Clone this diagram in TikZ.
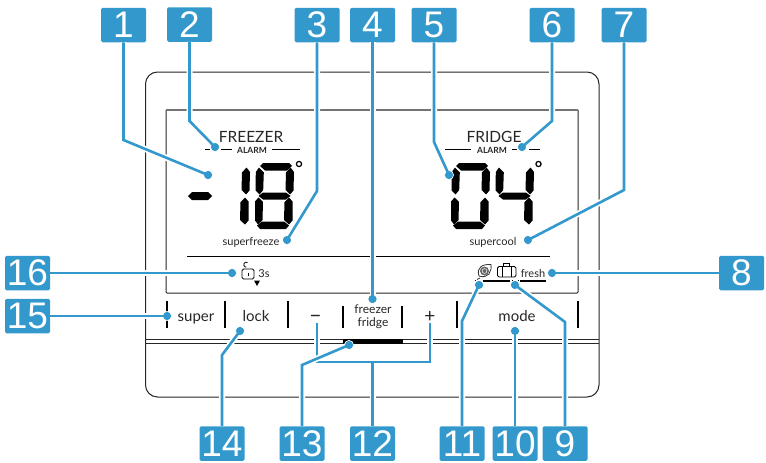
\documentclass[tikz,border=0pt]{standalone}
\usepackage{fontspec}
\setmainfont{Lato}
\newfontfamily\tagfont{Liberation Sans}
\usepackage{xcolor}
\usetikzlibrary{arrows.meta, positioning, calc}
\definecolor{tagblue}{HTML}{3399CC}
\tikzset{
  segA/.pic={\fill (5,3) -- (8,0) -- (34,0) -- (37,3) -- (32,7.5) -- (10,7.5) -- cycle;},
  segG/.pic={\fill (3.5,33) -- (8,29.5) -- (31,29.5) -- (35.5,33) -- (31,36.5) -- (8,36.5) -- cycle;},
  segD/.pic={\fill (2,62.5) -- (7,58.5) -- (29,58.5) -- (34,62.5) -- (31,66) -- (5,66) -- cycle;},
  segB/.pic={\fill (0.8,9) -- (4,4.5) -- (8.8,9.5) -- (8.2,27) -- (4.5,31.5) -- (0.5,27.5) -- cycle;},
  segF/.pic={\fill (31,9.5) -- (35.5,4.5) -- (39,9) -- (38.5,27.5) -- (35,31.5) -- (30.5,27) -- cycle;},
  segE/.pic={\fill (0,38.5) -- (3.5,34.5) -- (8,39) -- (7.5,57) -- (3,61.5) -- (0,57.5) -- cycle;},
  segC/.pic={\fill (29.5,39) -- (34,34.5) -- (37.5,38.5) -- (37.5,57.5) -- (34,61.5) -- (29,57) -- cycle;},
}
\newcommand{\lcddigit}[2]{\foreach \s in {#2} \pic at (#1,163) {seg\s};}

\begin{document}
\begin{tikzpicture}[
  x=1pt, y=-1pt,
  tagbox/.style={rectangle, rounded corners=1.5pt, fill=tagblue, text=white,
                 minimum width=45pt, minimum height=34.5pt, inner sep=0pt,
                 font=\tagfont\fontsize{37}{37}\selectfont},
  tagline/.style={draw=tagblue, line width=2.6pt, line join=miter,
                  preaction={draw=white, line width=6pt}},
  tagdot/.style={circle, fill=tagblue, draw=white, line width=0.8pt,
                 minimum size=9pt, inner sep=0pt},
  frame/.style={draw=black!85, line width=1pt},
  label/.style={inner sep=0pt, anchor=base, text=black!85},
  keytext/.style={label, font=\fontsize{15}{15}\selectfont},
  smalltext/.style={label, font=\fontsize{11}{11}\selectfont},
  headtext/.style={label, font=\fontsize{15.5}{15.5}\selectfont},
  alarmtext/.style={label, font=\bfseries\fontsize{8.5}{8.5}\selectfont},
  keysep/.style={draw=black, line width=1.5pt},
  thinrule/.style={draw=black, line width=1pt},
]
  \useasboundingbox (0,0) rectangle (766,463);

  % housing and display window
  \draw[frame, rounded corners=12pt] (145.5,72) rectangle (599,397);
  \draw[frame, rounded corners=1pt] (166,110) -- (166,293) -- (578,293) -- (578,110);
  \draw[draw=black!55, line width=1.4pt] (166,110) -- (578,110);
  \draw[frame] (146,339) -- (599,339);
  \draw[frame] (146,343) -- (599,343);
  \fill[black] (343,339) rectangle (403,343.5);
  \draw[thinrule] (187,256.5) -- (550,256.5);

  % key separators
  \draw[keysep] (167,301) -- (167,328);
  \draw[keysep] (225,301) -- (225,328);
  \draw[keysep] (288,301) -- (288,328);
  \draw[keysep] (343,306) -- (343,328);
  \draw[keysep] (402,306) -- (402,328);
  \draw[keysep] (457,301) -- (457,328);
  \draw[keysep] (578,301) -- (578,328);

  % display texts
  \node[headtext] (freezer) at (251,142) {FREEZER};
  \node[alarmtext] (alarmL) at (252,153) {ALARM};
  \node[headtext] (fridge) at (494,142) {FRIDGE};
  \node[alarmtext] (alarmR) at (492,153) {ALARM};
  \draw[thinrule] (205,149.5) -- (210,149.5) (221,149.5) -- (232,149.5) (272,149.5) -- (300,149.5);
  \draw[thinrule] (445,149.5) -- (471,149.5) (512,149.5) -- (517,149.5) (529,149.5) -- (540,149.5);

  % seven segment digits
  \fill (188,196) -- (192,192) -- (208,192) -- (212,196) -- (208,200) -- (192,200) -- cycle;
  \lcddigit{211}{F,C}
  \lcddigit{255}{A,B,F,G,E,C,D}
  \lcddigit{451}{A,B,F,E,C,D}
  \lcddigit{495}{B,F,G,C}
  \draw[black, line width=1.2pt] (299,164) circle (2.6pt);
  \draw[black, line width=1.2pt] (538.5,164) circle (2.6pt);

  \node[smalltext] (superfreeze) at (251,245) {superfreeze};
  \node[smalltext] (supercool) at (493,245) {supercool};
  \node[smalltext] (threes) at (264,277) {3s};
  \node[smalltext] (fresh) at (533,277) {fresh};

  % lock symbol
  \draw[black, line width=0.8pt, rounded corners=1.5pt] (242,269) rectangle (254,279);
  \draw[black, line width=0.8pt] (247.5,262.5) arc (60:270:2.5pt);
  \draw[black, line width=1pt] (248,272.5) -- (248,275.5);
  \fill[black] (254,280.5) -- (260,280.5) -- (257,286) -- cycle;

  % leaf and suitcase symbols
  \draw[black!80, line width=0.8pt] (480,278) -- (477,279.5);
  \draw[black!80, line width=0.8pt] (479,276) .. controls (476,267) and (483,264) .. (491,264.5) .. controls (492,272) and (488,279) .. (479,276) -- cycle;
  \fill[black!60] (484.5,271) circle (4.5pt);
  \draw[white, line width=0.5pt] (484.5,271) circle (2.4pt);
  \draw[black, line width=0.8pt, rounded corners=1.5pt] (497.5,266.5) rectangle (516,277);
  \draw[black, line width=0.8pt] (502,266.5) -- (502,277) (511,266.5) -- (511,277);
  \draw[black, line width=0.8pt] (503.5,266.5) -- (503.5,263.5) -- (509.5,263.5) -- (509.5,266.5);
  \draw[black, line width=1.2pt] (483,281) -- (510,281) (520,281) -- (546,281);
  \draw[black, line width=0.6pt] (475,280.5) -- (476,280.5) (512,280.5) -- (513,280.5) (517.5,280.5) -- (518.5,280.5);

  % key texts
  \node[keytext] (super) at (196,321) {super};
  \node[keytext] (lock) at (256,321) {lock};
  \node[label, font=\fontsize{22}{22}\selectfont] (minus) at (315.5,322.5) {--};
  \node[smalltext, font=\fontsize{12}{12}\selectfont] (freezerkey) at (373,313) {freezer};
  \node[smalltext, font=\fontsize{12}{12}\selectfont] (fridgekey) at (373,326) {fridge};
  \node[label, font=\fontsize{19}{19}\selectfont] (plus) at (430,322) {+};
  \node[keytext] (mode) at (517,321) {mode};

  % numbered tags
  \node[tagbox] (t1) at (123.5,25) {1};
  \node[tagbox] (t2) at (189.5,24.5) {2};
  \node[tagbox] (t3) at (317,25) {3};
  \node[tagbox] (t4) at (372.5,25) {4};
  \node[tagbox] (t5) at (434,25) {5};
  \node[tagbox] (t6) at (552,25) {6};
  \node[tagbox] (t7) at (624,25) {7};
  \node[tagbox] (t8) at (741.5,273) {8};
  \node[tagbox] (t9) at (565,443.5) {9};
  \node[tagbox] (t10) at (515,443.5) {10};
  \node[tagbox] (t11) at (462,443.5) {11};
  \node[tagbox] (t12) at (372.5,443.5) {12};
  \node[tagbox] (t13) at (302,443.5) {13};
  \node[tagbox] (t14) at (222,443.5) {14};
  \node[tagbox] (t15) at (27.5,316) {15};
  \node[tagbox] (t16) at (27.5,273) {16};

  % end points of the tag lines
  \node[tagdot] (d1) at (208,175) {};
  \node[tagdot] (d2) at (215,147) {};
  \node[tagdot] (d3) at (287,240) {};
  \node[tagdot] (d4) at (372.5,299) {};
  \node[tagdot] (d5) at (449,175) {};
  \node[tagdot] (d6) at (522,147) {};
  \node[tagdot] (d7) at (528,240) {};
  \node[tagdot] (d8) at (552,273) {};
  \node[tagdot] (d9) at (515,285) {};
  \node[tagdot] (d10) at (515,331) {};
  \node[tagdot] (d11) at (479,285) {};
  \node[tagdot] (d13) at (349,345) {};
  \node[tagdot] (d14) at (240,331) {};
  \node[tagdot] (d15) at (167,316) {};
  \node[tagdot] (d16) at (232,273) {};

  \coordinate (b1) at (123.5,140);
  \coordinate (b2) at (189.5,121);
  \coordinate (b3) at (317,191);
  \coordinate (b5) at (434,142);
  \coordinate (b6) at (552,121);
  \coordinate (b7) at (624,190);
  \coordinate (b9) at (565,322);
  \coordinate (b11) at (462,321);
  \coordinate (b13) at (302,365);
  \coordinate (b14) at (222,355);
  \coordinate (k12a) at (317,323);
  \coordinate (k12b) at (430,323);
  \coordinate (j12a) at (317,362);
  \coordinate (j12b) at (430,362);
  \coordinate (j12c) at (372.5,362);

  \draw[tagline] (t1.south) -- (b1) -- (d1.center);
  \draw[tagline] (t2.south) -- (b2) -- (d2.center);
  \draw[tagline] (t3.south) -- (b3) -- (d3.center);
  \draw[tagline] (t4.south) -- (d4.center);
  \draw[tagline] (t5.south) -- (b5) -- (d5.center);
  \draw[tagline] (t6.south) -- (b6) -- (d6.center);
  \draw[tagline] (t7.south) -- (b7) -- (d7.center);
  \draw[tagline] (t8.west) -- (d8.center);
  \draw[tagline] (t9.north) -- (b9) -- (d9.center);
  \draw[tagline] (t10.north) -- (d10.center);
  \draw[tagline] (t11.north) -- (b11) -- (d11.center);
  \draw[tagline] (k12a) -- (j12a) -- (j12b) -- (k12b) (j12c) -- (t12.north);
  \draw[tagline] (t13.north) -- (b13) -- (d13.center);
  \draw[tagline] (t14.north) -- (b14) -- (d14.center);
  \draw[tagline] (t15.east) -- (d15.center);
  \draw[tagline] (t16.east) -- (d16.center);

  % dots again, over their lines
  \foreach \d in {1,2,3,4,5,6,7,8,9,10,11,13,14,15,16}
    \fill[tagblue] (d\d) circle (4pt);
\end{tikzpicture}
\end{document}
